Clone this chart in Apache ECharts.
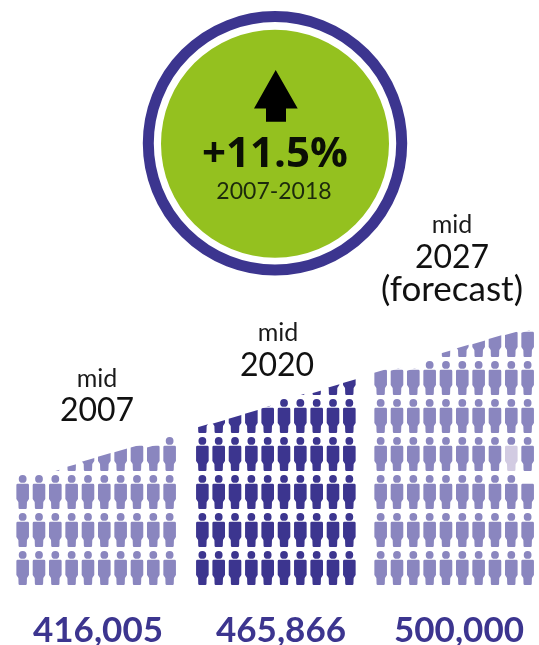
<!DOCTYPE html>
<html><head><meta charset="utf-8">
<style>html,body{margin:0;padding:0;background:#fff}#c{width:539px;height:645px;filter:blur(0.6px)}</style>
<script src="https://cdn.jsdelivr.net/npm/echarts@6/dist/echarts.min.js"></script>
</head><body><div id="c"></div>
<script>
// Data: stack height (in people) of each of the ten columns
const columns = ['1','2','3','4','5','6','7','8','9','10'];
const stack2007 = [3.05,3.05,3.105,3.25,3.40,3.53,3.65,3.77,3.77,4.02];
const stack2020 = [4.29,4.40,4.53,4.66,4.80,5.02,5.10,5.19,5.34,5.47];
const stack2027 = [5.74,5.79,5.79,6.02,6.24,6.38,6.49,6.63,6.73,6.79];
const periodTitles = ['2007','2020','2027'];
const totals = ['416,005','465,866','500,000'];
const changeText = '+11.5%';
const changePeriod = '2007-2018';
// Oddities in the 2027 pictogram: [column, row]
const paleBodies2027 = [[8,3]];
const noHeads2027 = [[9,2]];

const LIGHT='#8a86bf', DARK='#3c358f', PALE='#d2cbe2', GREEN='#94c11f', FONT='Lato';
const SLOPE=0.29;

function hasCell(list,c,r){return list.some(function(p){return p[0]===c&&p[1]===r;});}

function renderer(color,pale,noHead){
  return function(params,api){
    const col=api.value(0), top=api.value(1);
    const cx=api.coord([col,0])[0];
    const yTop=api.coord([col,top])[1];
    const kids=[];
    for(let r=0;r<Math.ceil(top);r++){
      const y=api.coord([col,r+1])[1];
      if(!hasCell(noHead,col,r)){
        kids.push({type:'circle',shape:{cx:cx,cy:y+3.9,r:3.9},style:{fill:color}});
      }
      const x=cx;
      const d='M'+(x-5)+' '+(y+8.8)+'L'+(x+5)+' '+(y+8.8)+'Q'+(x+6.3)+' '+(y+8.8)+' '+(x+6.3)+' '+(y+10.2)+
        'L'+(x+6.3)+' '+(y+24)+'L'+(x+4.3)+' '+(y+27)+'L'+(x+4.1)+' '+(y+33)+'Q'+(x+4)+' '+(y+34)+' '+(x+3)+' '+(y+34)+
        'L'+(x-3)+' '+(y+34)+'Q'+(x-4)+' '+(y+34)+' '+(x-4.1)+' '+(y+33)+'L'+(x-4.3)+' '+(y+27)+
        'L'+(x-6.3)+' '+(y+24)+'L'+(x-6.3)+' '+(y+10.2)+'Q'+(x-6.3)+' '+(y+8.8)+' '+(x-5)+' '+(y+8.8)+'Z';
      kids.push({type:'path',shape:{pathData:d},style:{fill:hasCell(pale,col,r)?PALE:color}});
    }
    return {type:'group',children:kids,
      clipPath:{type:'polygon',shape:{points:[
        [cx-9,yTop+9*SLOPE],[cx+9,yTop-9*SLOPE],[cx+9,640],[cx-9,640]]}}};
  };
}
function pairs(a){return a.map(function(v,i){return [i,v];});}
// y is the text baseline
function txt(s,x,y,size,weight,fill,family){
  return {type:'text',x:x,y:y-0.8*size,silent:true,style:{text:s,x:0,y:0,align:'center',verticalAlign:'top',
    font:weight+' '+size+'px '+(family||FONT),fill:fill}};
}
const GL=[14.5,194.2,372.5];
const grids=GL.map(function(l){return {left:l,width:163.3,top:323,height:266};});
const chart=echarts.init(document.getElementById('c'),null,{renderer:'canvas'});
chart.setOption({
  animation:false,
  backgroundColor:'#fff',
  grid:grids,
  xAxis:GL.map(function(_,i){return {type:'category',gridIndex:i,data:columns,show:false};}),
  yAxis:GL.map(function(_,i){return {type:'value',gridIndex:i,min:0,max:7,show:false};}),
  series:[
    {type:'custom',xAxisIndex:0,yAxisIndex:0,data:pairs(stack2007),clip:false,renderItem:renderer(LIGHT,[],[])},
    {type:'custom',xAxisIndex:1,yAxisIndex:1,data:pairs(stack2020),clip:false,renderItem:renderer(DARK,[],[])},
    {type:'custom',xAxisIndex:2,yAxisIndex:2,data:pairs(stack2027),clip:false,renderItem:renderer(LIGHT,paleBodies2027,noHeads2027)}
  ],
  graphic:[
    {type:'circle',shape:{cx:275,cy:143.3,r:126.7},style:{fill:'#fff',stroke:DARK,lineWidth:11}},
    {type:'circle',shape:{cx:275,cy:143.7,r:114},style:{fill:GREEN}},
    {type:'polygon',shape:{points:[[275.7,70],[297.7,108.5],[286,108.5],[286,121.7],[266,121.7],[266,108.5],[254,108.5]]},style:{fill:'#000'}},
    txt(changeText,275,167.5,42,'bold','#0b0f05','Open Sans'),
    txt(changePeriod,274,198,23,'normal','#1c2a0c'),
    txt('mid',97,386.5,25,'normal','#1a1a1a'),
    txt(periodTitles[0],97,420,32,'normal','#111'),
    txt('mid',278,340,25,'normal','#1a1a1a'),
    txt(periodTitles[1],277,375,32,'normal','#111'),
    txt('mid',452,232,25,'normal','#1a1a1a'),
    txt(periodTitles[2],452,267,32,'normal','#111'),
    txt('(forecast)',452,300,35,'normal','#111'),
    txt(totals[0],98,641,35,'bold',DARK),
    txt(totals[1],281,641,35,'bold',DARK),
    txt(totals[2],459,641,35,'bold',DARK)
  ]
});
</script></body></html>
